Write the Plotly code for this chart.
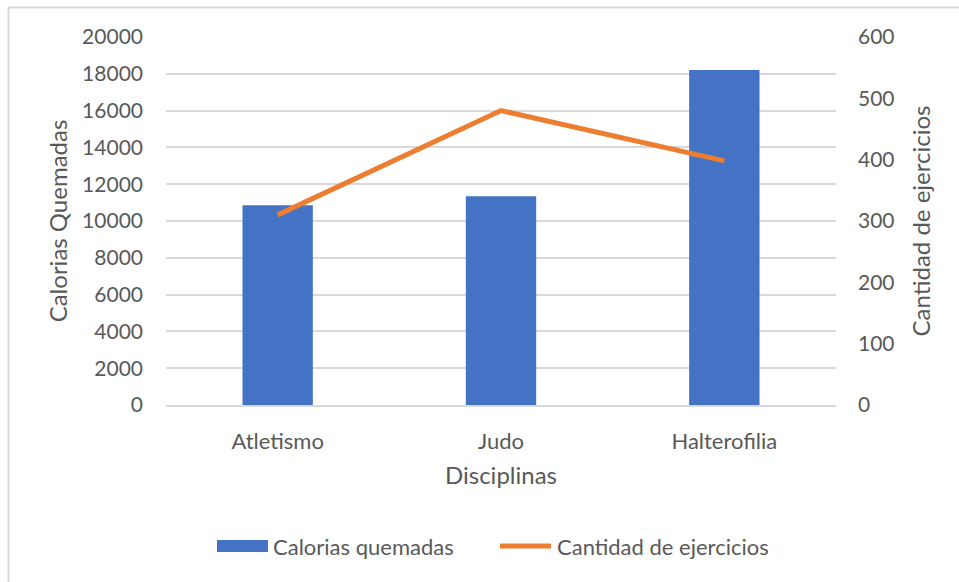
import plotly.graph_objects as go

categories = ["Atletismo", "Judo", "Halterofilia"]
calorias = [10850, 11350, 18200]
ejercicios = [310, 480, 398]

left_tick_vals = [0, 2000, 4000, 6000, 8000, 10000, 12000, 14000, 16000, 18000, 20000]
right_tick_vals = [0, 100, 200, 300, 400, 500, 600]

bar_name = "Calorias quemadas"
line_name = "Cantidad de ejercicios"

W, H = 959, 582
ML, MR, MT, MB = 166, 123, 37, 177
pw = W - ML - MR
ph = H - MT - MB

FONT = "Lato, 'Open Sans', sans-serif"
TXT = "#595959"
BLUE = "#4472C4"
ORANGE = "#ED7D31"
GRID = "#D9D9D9"

fig = go.Figure()
fig.add_trace(go.Bar(
    x=categories, y=calorias, name=bar_name,
    marker=dict(color=BLUE, line=dict(width=0)),
    width=0.315, yaxis="y", showlegend=False,
))
fig.add_trace(go.Scatter(
    x=categories, y=ejercicios, name=line_name,
    mode="lines", line=dict(color=ORANGE, width=5),
    yaxis="y2", showlegend=False,
))

def px_x(p):
    return (p - ML) / pw

def px_y(p):
    return (H - MB - p) / ph

leg_y = 546
shapes = [
    dict(type="line", xref="paper", yref="paper", x0=px_x(8), x1=px_x(970), y0=px_y(7.5), y1=px_y(7.5),
         line=dict(color=GRID, width=2)),
    dict(type="line", xref="paper", yref="paper", x0=px_x(8.5), x1=px_x(8.5), y0=px_y(7.5), y1=px_y(600),
         line=dict(color=GRID, width=2)),
    # legend keys
    dict(type="rect", xref="paper", yref="paper", x0=px_x(217), x1=px_x(268), y0=px_y(leg_y - 6), y1=px_y(leg_y + 6),
         fillcolor=BLUE, line=dict(width=0)),
    dict(type="line", xref="paper", yref="paper", x0=px_x(500), x1=px_x(551), y0=px_y(leg_y), y1=px_y(leg_y),
         line=dict(color=ORANGE, width=5)),
]
annotations = [
    dict(text=bar_name, xref="paper", yref="paper", x=px_x(271), y=px_y(leg_y), xanchor="left", yanchor="middle",
         showarrow=False, font=dict(size=22, color=TXT, family=FONT)),
    dict(text=line_name, xref="paper", yref="paper", x=px_x(555), y=px_y(leg_y), xanchor="left", yanchor="middle",
         showarrow=False, font=dict(size=22, color=TXT, family=FONT)),
]

fig.update_layout(
    width=W, height=H,
    margin=dict(l=ML, r=MR, t=MT, b=MB),
    paper_bgcolor="white", plot_bgcolor="white",
    font=dict(family=FONT, size=22, color=TXT),
    showlegend=False,
    xaxis=dict(showgrid=False, showline=True, linecolor=GRID, linewidth=1.5,
               ticks="", tickfont=dict(size=22, color=TXT), ticklabelstandoff=16,
               title=dict(text="Disciplinas", font=dict(size=24, color=TXT), standoff=14)),
    yaxis=dict(range=[0, 20000], tickvals=left_tick_vals, tickformat="d", showgrid=True, gridcolor=GRID,
               gridwidth=1.5, zeroline=False, showline=False, ticks="",
               tickfont=dict(size=21, color=TXT), ticklabelstandoff=22,
               title=dict(text="Calorias Quemadas", font=dict(size=24, color=TXT), standoff=7)),
    yaxis2=dict(range=[0, 600], tickvals=right_tick_vals, tickformat="d", overlaying="y", side="right",
                showgrid=False, zeroline=False, showline=False, ticks="",
                tickfont=dict(size=21, color=TXT), ticklabelstandoff=21,
                title=dict(text="Cantidad de ejercicios", font=dict(size=24, color=TXT), standoff=19)),
    shapes=shapes,
    annotations=annotations,
)

fig.write_html("out.html")
